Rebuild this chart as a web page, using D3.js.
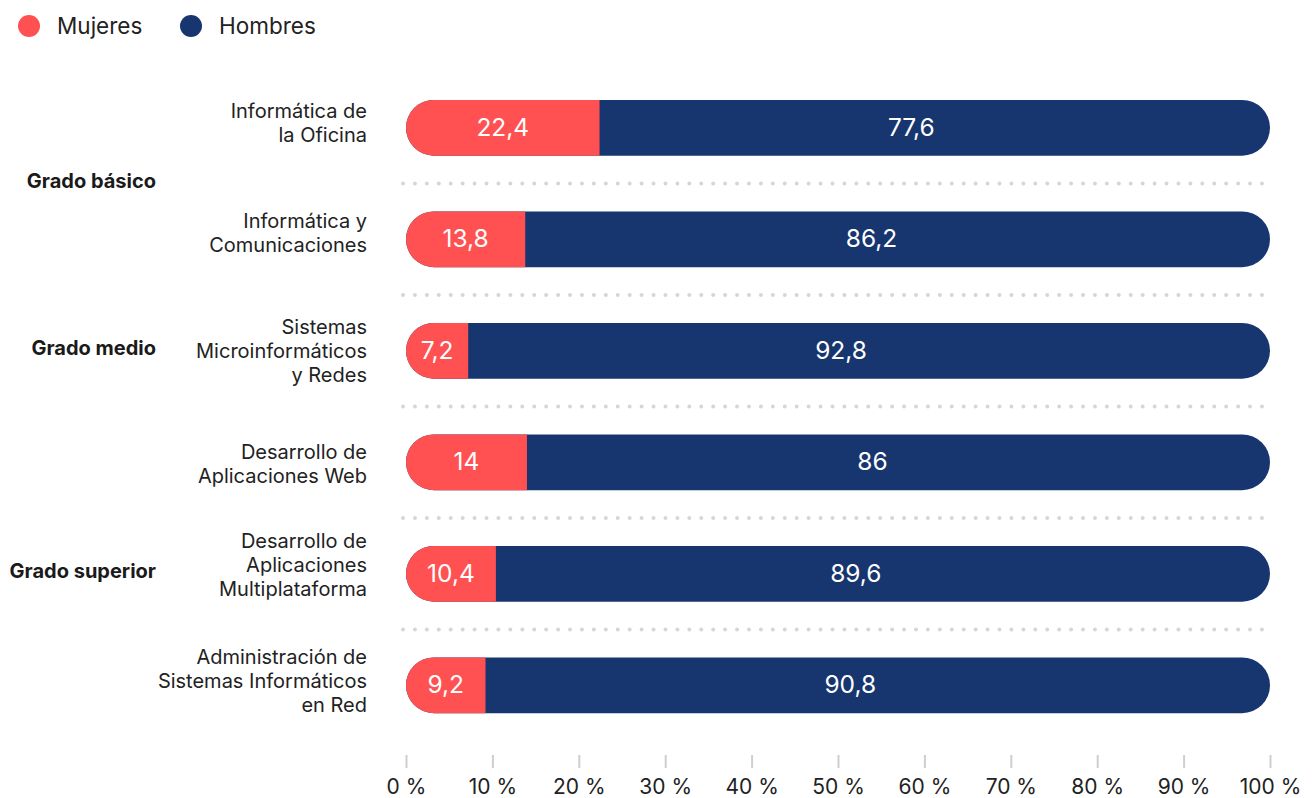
<!DOCTYPE html>
<html><head><meta charset="utf-8">
<script src="https://cdn.jsdelivr.net/npm/d3@7"></script>
<style>
body{margin:0;background:#fff;}
text{font-family:Inter,"Noto Sans",sans-serif;}
</style></head>
<body><svg id="c" width="1312" height="798"></svg>
<script>
const categories = [
  ["Informática de", "la Oficina"],
  ["Informática y", "Comunicaciones"],
  ["Sistemas", "Microinformáticos", "y Redes"],
  ["Desarrollo de", "Aplicaciones Web"],
  ["Desarrollo de", "Aplicaciones", "Multiplataforma"],
  ["Administración de", "Sistemas Informáticos", "en Red"]
];
const mujeres = [22.4, 13.8, 7.2, 14, 10.4, 9.2];
const hombres = [77.6, 86.2, 92.8, 86, 89.6, 90.8];
const groups = [
  {name: "Grado básico", from: 0, to: 1},
  {name: "Grado medio", from: 2, to: 2},
  {name: "Grado superior", from: 3, to: 5}
];
const seriesNames = ["Mujeres", "Hombres"];
const colors = ["#FF5152", "#173670"];
const ticks = [0,10,20,30,40,50,60,70,80,90,100];

// small per-label vertical nudges (layout only)
const labelNudge = [-5, -6, 0, 2, -8.5, -4.5];

const svg = d3.select("#c");
const x = d3.scaleLinear().domain([0,100]).range([406,1270]);
const y = d3.scaleBand().domain(d3.range(categories.length)).range([72,741]).paddingInner(0.5).paddingOuter(0.25);
const fmt = v => String(v).replace(".", ",");

// legend
seriesNames.forEach((s,i)=>{
  const lx = i===0 ? 29 : 191;
  svg.append("circle").attr("cx",lx).attr("cy",26).attr("r",11).attr("fill",colors[i]);
  svg.append("text").attr("x",lx+28).attr("y",33.5).attr("font-size",22.5).attr("fill","#222").text(s);
});

// dotted separators
for(let i=0;i<categories.length-1;i++){
  const yy = (y(i)+y.bandwidth() + y(i+1))/2;
  svg.append("line").attr("x1",403).attr("x2",1262).attr("y1",yy).attr("y2",yy)
    .attr("stroke","#d6d6d6").attr("stroke-width",4).attr("stroke-linecap","round")
    .attr("stroke-dasharray","0 11.93");
}

const h = y.bandwidth(), r = h/2;
categories.forEach((c,i)=>{
  const y0 = y(i);
  svg.append("rect").attr("x",x(0)).attr("y",y0).attr("width",x(100)-x(0)).attr("height",h)
    .attr("rx",r).attr("fill",colors[1]);
  const xe = x(mujeres[i]);
  const p = d3.path();
  p.moveTo(xe, y0);
  p.lineTo(x(0)+r, y0);
  p.arc(x(0)+r, y0+r, r, -Math.PI/2, Math.PI/2, true);
  p.lineTo(xe, y0+h);
  p.closePath();
  svg.append("path").attr("d",p.toString()).attr("fill",colors[0]);
  svg.append("text").attr("x",(x(0)+xe)/2).attr("y",y0+r+8).attr("text-anchor","middle")
    .attr("font-size",24.5).attr("fill","#fff").text(fmt(mujeres[i]));
  svg.append("text").attr("x",x(mujeres[i] + hombres[i]*0.465)).attr("y",y0+r+8).attr("text-anchor","middle")
    .attr("font-size",24.5).attr("fill","#fff").text(fmt(hombres[i]));
  const t = svg.append("text").attr("text-anchor","end").attr("font-size",20).attr("fill","#222");
  const n = c.length;
  c.forEach((line,k)=>{
    t.append("tspan").attr("x",367).attr("y",y0+r+7+labelNudge[i]+(k-(n-1)/2)*24).text(line);
  });
});

// group labels
groups.forEach(g=>{
  const yy = (y(g.from)+y(g.to)+h)/2;
  svg.append("text").attr("x",156).attr("y",yy+4.5).attr("text-anchor","end")
    .attr("font-size",20).attr("font-weight","bold").attr("fill","#1a1a1a").text(g.name);
});

// axis
const ax = svg.append("g").attr("transform","translate(0,755)")
  .call(d3.axisBottom(x).tickValues(ticks).tickSize(13).tickFormat(d=>d+" %"));
ax.select(".domain").remove();
ax.selectAll(".tick line").attr("stroke","#cfcfcf").attr("stroke-width",2);
ax.selectAll(".tick text").attr("font-size",21).attr("fill","#222").attr("dy",0).attr("y",39)
  .attr("font-family","Inter,'Noto Sans',sans-serif");
</script></body></html>
